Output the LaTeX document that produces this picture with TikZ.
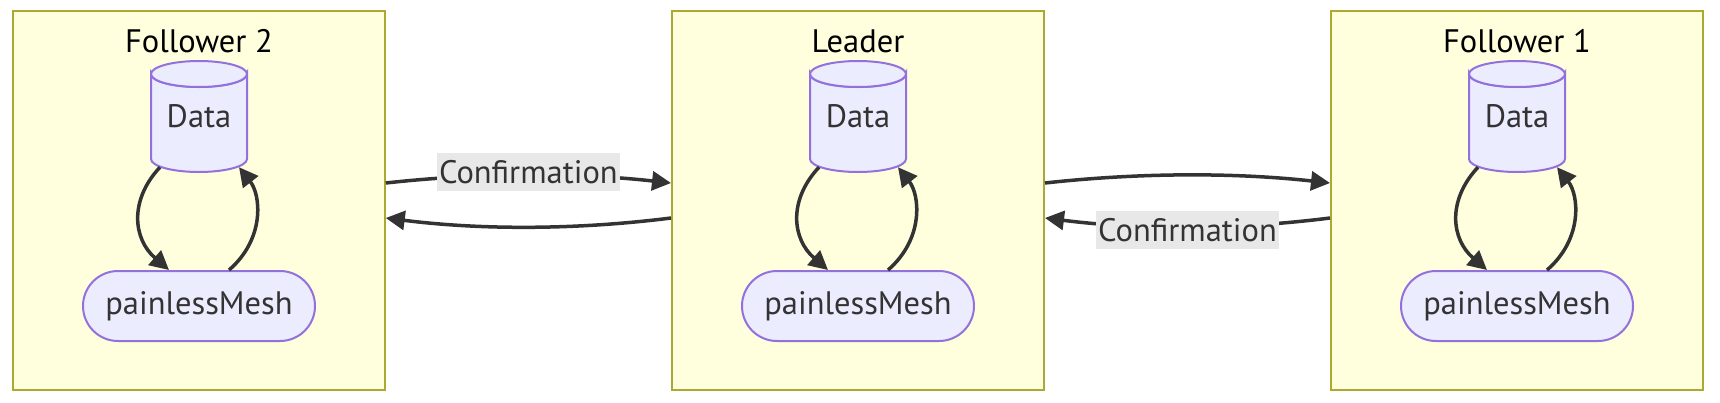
\documentclass[tikz,border=0pt]{standalone}
\usepackage{fontspec}
\setmainfont{PT Sans}
\usetikzlibrary{arrows.meta,calc}
\definecolor{boxfill}{HTML}{FFFFDE}
\definecolor{boxline}{HTML}{AAAA33}
\definecolor{nodefill}{HTML}{ECECFF}
\definecolor{nodeline}{HTML}{9370DB}
\definecolor{ink}{HTML}{333333}
\definecolor{lblbg}{HTML}{E8E8E8}
\begin{document}
\begin{tikzpicture}[x=1pt,y=-1pt,
  txt/.style={font=\fontsize{32.5}{38}\selectfont},
  groupbox/.style={draw=boxline,fill=boxfill,line width=2pt,minimum width=372pt,minimum height=379pt,inner sep=0pt},
  grouptitle/.style={txt,text=black,anchor=base,inner sep=0pt},
  datanode/.style={txt,text=ink,minimum width=96pt,minimum height=111pt,inner sep=0pt},
  cylline/.style={draw=nodeline,fill=nodefill,line width=2pt},
  meshnode/.style={txt,text=ink,draw=nodeline,fill=nodefill,line width=2pt,rounded corners=35pt,minimum width=232pt,minimum height=70pt,inner sep=0pt},
  conn/.style={draw=ink,line width=3.5pt,-{Triangle[length=19pt,width=19pt]}},
  edgelbl/.style={txt,text=ink,fill=lblbg,inner xsep=2pt,inner ysep=0pt,minimum height=38pt}
]
\useasboundingbox (0,0) rectangle (1720,402);
\fill[white] (0,0) rectangle (1720,402);

% group boxes
\node[groupbox] (f2box) at (198.75,200.5) {};
\node[groupbox] (ldbox) at (858,200.5) {};
\node[groupbox] (f1box) at (1517,200.5) {};

\node[grouptitle] (f2title) at (199,52) {Follower 2};
\node[grouptitle] (ldtitle) at (858,52) {Leader};
\node[grouptitle] (f1title) at (1517,52) {Follower 1};

% cylinders and mesh nodes
\foreach \n/\cx in {f2/199,ld/858,f1/1517}{
  \path[cylline] (\cx-48,74) -- (\cx-48,159) arc[start angle=180,end angle=0,x radius=48,y radius=13] -- (\cx+48,74) arc[start angle=0,end angle=180,x radius=48,y radius=13] -- cycle;
  \path[cylline] (\cx,74) ellipse[x radius=48,y radius=13];
}
\node[datanode] (f2data) at (199,116.5) {Data};
\node[datanode] (lddata) at (858,116.5) {Data};
\node[datanode] (f1data) at (1517,116.5) {Data};

\node[meshnode] (f2mesh) at (199,306) {painlessMesh};
\node[meshnode] (ldmesh) at (858,306) {painlessMesh};
\node[meshnode] (f1mesh) at (1517,306) {painlessMesh};

% inner loops
\foreach \n in {f2,ld,f1}{
  \draw[conn] ($(\n data.south)+(-39,-5)$) .. controls +(-31,33) and +(-36,-31) .. ($(\n mesh.north)+(-30,0)$);
  \draw[conn] ($(\n mesh.north)+(30,0)$) .. controls +(36,-31) and +(22,28) .. ($(\n data.south)+(40,-5)$);
}

% between groups
\draw[conn] ($(f2box.east)+(0,-17.5)$) .. controls +(95,-10.5) and +(-95,-10.5) .. ($(ldbox.west)+(0,-17.5)$)
  node[edgelbl,pos=0.5,yshift=3pt] (lbl1) {Confirmation};
\draw[conn] ($(ldbox.west)+(0,17.5)$) .. controls +(-95,12) and +(95,12) .. ($(f2box.east)+(0,17.5)$);
\draw[conn] ($(ldbox.east)+(0,-17.5)$) .. controls +(95,-10.5) and +(-95,-10.5) .. ($(f1box.west)+(0,-17.5)$);
\draw[conn] ($(f1box.west)+(0,17.5)$) .. controls +(-95,12) and +(95,12) .. ($(ldbox.east)+(0,17.5)$)
  node[edgelbl,pos=0.5,yshift=-3pt] (lbl2) {Confirmation};
\end{tikzpicture}
\end{document}
